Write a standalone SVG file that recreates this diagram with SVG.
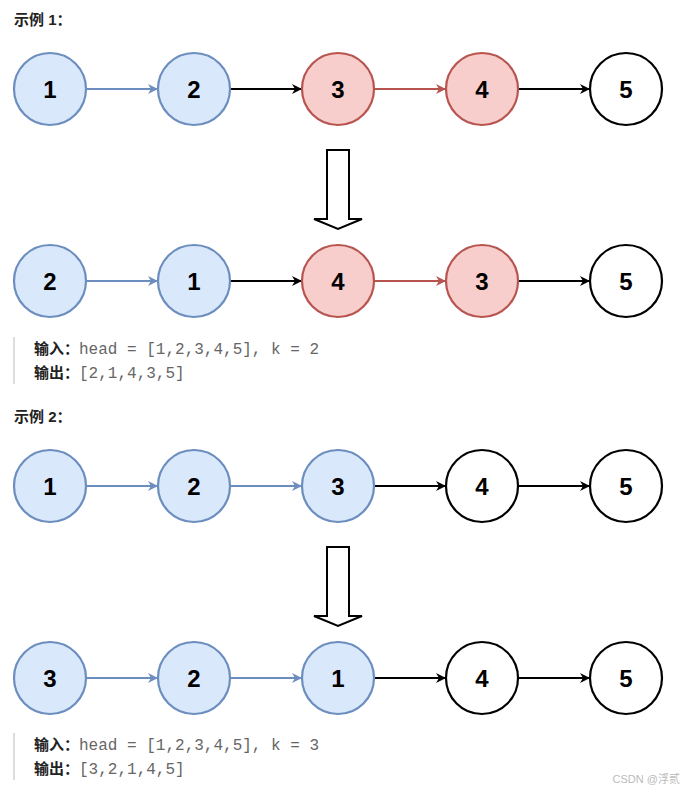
<svg xmlns="http://www.w3.org/2000/svg" width="693" height="792" viewBox="0 0 693 792">
<style>
.b{fill:#dae8fc;stroke:#6c8ebf;stroke-width:2.2}
.r{fill:#f8cecc;stroke:#b85450;stroke-width:2.2}
.w{fill:#fff;stroke:#000;stroke-width:2.2}
.n{font-family:"Liberation Sans",Arial,sans-serif;font-size:24px;font-weight:bold;text-anchor:middle;fill:#000}
.h{font-family:"Liberation Sans","Noto Sans CJK SC",sans-serif;font-size:15px;font-weight:bold;fill:#222}
.m{font-family:"Liberation Mono","Noto Sans CJK SC",monospace;font-size:16px;fill:#666}
.lk{stroke:#000;stroke-width:2;marker-end:url(#ak)}
.lb{stroke:#6c8ebf;stroke-width:2;marker-end:url(#ab)}
.lr{stroke:#b85450;stroke-width:2;marker-end:url(#ar)}
.big{fill:#fff;stroke:#000;stroke-width:2}
</style>
<defs>
<marker id="ak" markerWidth="10" markerHeight="10" refX="9" refY="5" orient="auto" markerUnits="userSpaceOnUse"><path d="M0,0 L10,5 L0,10 L3,5 Z" fill="#000"/></marker>
<marker id="ab" markerWidth="10" markerHeight="10" refX="9" refY="5" orient="auto" markerUnits="userSpaceOnUse"><path d="M0,0 L10,5 L0,10 L3,5 Z" fill="#6c8ebf"/></marker>
<marker id="ar" markerWidth="10" markerHeight="10" refX="9" refY="5" orient="auto" markerUnits="userSpaceOnUse"><path d="M0,0 L10,5 L0,10 L3,5 Z" fill="#b85450"/></marker>
</defs>
<text class="h" x="14" y="25">示例 1：</text>
<text class="h" x="14" y="422">示例 2：</text>
<g id="connectors">
<line class="lb" x1="87" y1="89" x2="157" y2="89"/>
<line class="lk" x1="231" y1="89" x2="301" y2="89"/>
<line class="lr" x1="375" y1="89" x2="445" y2="89"/>
<line class="lk" x1="519" y1="89" x2="589" y2="89"/>
<line class="lb" x1="87" y1="281" x2="157" y2="281"/>
<line class="lk" x1="231" y1="281" x2="301" y2="281"/>
<line class="lr" x1="375" y1="281" x2="445" y2="281"/>
<line class="lk" x1="519" y1="281" x2="589" y2="281"/>
<line class="lb" x1="87" y1="486" x2="157" y2="486"/>
<line class="lb" x1="231" y1="486" x2="301" y2="486"/>
<line class="lk" x1="375" y1="486" x2="445" y2="486"/>
<line class="lk" x1="519" y1="486" x2="589" y2="486"/>
<line class="lb" x1="87" y1="678" x2="157" y2="678"/>
<line class="lb" x1="231" y1="678" x2="301" y2="678"/>
<line class="lk" x1="375" y1="678" x2="445" y2="678"/>
<line class="lk" x1="519" y1="678" x2="589" y2="678"/>
<path class="big" d="M327,150 H349 V219 H362 L338,229 L314,219 H327 Z"/>
<path class="big" d="M327,547 H349 V616 H362 L338,626 L314,616 H327 Z"/>
</g>
<g id="r1n1"><circle class="b" cx="50" cy="89" r="36"/><text class="n" x="50" y="98">1</text></g>
<g id="r1n2"><circle class="b" cx="194" cy="89" r="36"/><text class="n" x="194" y="98">2</text></g>
<g id="r1n3"><circle class="r" cx="338" cy="89" r="36"/><text class="n" x="338" y="98">3</text></g>
<g id="r1n4"><circle class="r" cx="482" cy="89" r="36"/><text class="n" x="482" y="98">4</text></g>
<g id="r1n5"><circle class="w" cx="626" cy="89" r="36"/><text class="n" x="626" y="98">5</text></g>
<g id="r2n1"><circle class="b" cx="50" cy="281" r="36"/><text class="n" x="50" y="290">2</text></g>
<g id="r2n2"><circle class="b" cx="194" cy="281" r="36"/><text class="n" x="194" y="290">1</text></g>
<g id="r2n3"><circle class="r" cx="338" cy="281" r="36"/><text class="n" x="338" y="290">4</text></g>
<g id="r2n4"><circle class="r" cx="482" cy="281" r="36"/><text class="n" x="482" y="290">3</text></g>
<g id="r2n5"><circle class="w" cx="626" cy="281" r="36"/><text class="n" x="626" y="290">5</text></g>
<g id="r3n1"><circle class="b" cx="50" cy="486" r="36"/><text class="n" x="50" y="495">1</text></g>
<g id="r3n2"><circle class="b" cx="194" cy="486" r="36"/><text class="n" x="194" y="495">2</text></g>
<g id="r3n3"><circle class="b" cx="338" cy="486" r="36"/><text class="n" x="338" y="495">3</text></g>
<g id="r3n4"><circle class="w" cx="482" cy="486" r="36"/><text class="n" x="482" y="495">4</text></g>
<g id="r3n5"><circle class="w" cx="626" cy="486" r="36"/><text class="n" x="626" y="495">5</text></g>
<g id="r4n1"><circle class="b" cx="50" cy="678" r="36"/><text class="n" x="50" y="687">3</text></g>
<g id="r4n2"><circle class="b" cx="194" cy="678" r="36"/><text class="n" x="194" y="687">2</text></g>
<g id="r4n3"><circle class="b" cx="338" cy="678" r="36"/><text class="n" x="338" y="687">1</text></g>
<g id="r4n4"><circle class="w" cx="482" cy="678" r="36"/><text class="n" x="482" y="687">4</text></g>
<g id="r4n5"><circle class="w" cx="626" cy="678" r="36"/><text class="n" x="626" y="687">5</text></g>
<rect x="13" y="337" width="2" height="47" fill="#ddd"/>
<text x="34" y="354"><tspan class="h">输入：</tspan><tspan class="m">head = [1,2,3,4,5], k = 2</tspan></text>
<text x="34" y="378"><tspan class="h">输出：</tspan><tspan class="m">[2,1,4,3,5]</tspan></text>
<rect x="13" y="733" width="2" height="47" fill="#ddd"/>
<text x="34" y="750"><tspan class="h">输入：</tspan><tspan class="m">head = [1,2,3,4,5], k = 3</tspan></text>
<text x="34" y="774"><tspan class="h">输出：</tspan><tspan class="m">[3,2,1,4,5]</tspan></text>
<text x="680" y="783" text-anchor="end" font-family="'Liberation Sans','Noto Sans CJK SC',sans-serif" font-size="11" fill="#bbb">CSDN @浮贰</text>
</svg>
